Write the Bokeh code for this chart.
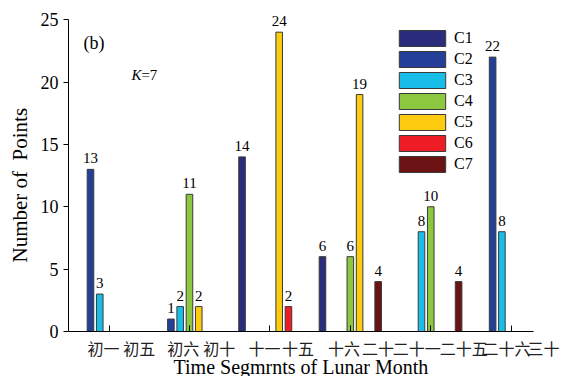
from bokeh.plotting import figure
from bokeh.models import (Range1d, LinearAxis, FixedTicker, ColumnDataSource,
                          LabelSet, Label, Legend, LegendItem, Title)
from bokeh.embed import file_html
from bokeh.resources import INLINE

# Point counts per cluster in each lunar-month time segment
segments = ["初一-初五", "初六-初十", "十一-十五", "十六-二十", "二十一-二十五", "二十六-三十"]
series = ["C1", "C2", "C3", "C4", "C5", "C6", "C7"]
c1 = [0, 0, 14, 6, 0, 0]
c2 = [13, 1, 0, 0, 0, 22]
c3 = [3, 2, 0, 0, 8, 8]
c4 = [0, 11, 0, 6, 10, 0]
c5 = [0, 2, 24, 19, 0, 0]
c6 = [0, 0, 2, 0, 0, 0]
c7 = [0, 0, 0, 4, 4, 0]
values = [c1, c2, c3, c4, c5, c6, c7]
colors = ["#2B2C7B", "#243F98", "#18BEE8", "#8DC63F", "#FDCB10", "#EE1D25", "#6A1214"]

# Day labels along the bottom and where they sit on the segment axis
tick_labels = ["初一", "初五", "初六", "初十", "十一", "十五",
               "十六", "二十", "二十一", "二十五", "二十六", "三十"]
tick_label_pos = [-0.07, 0.377, 0.923, 1.37, 1.933, 2.35,
                  2.921, 3.343, 3.826, 4.409, 4.942, 5.402]
y_ticks = [0, 5, 10, 15, 20, 25]

SERIF = "Liberation Serif"
CJK = "Noto Sans CJK SC"
slot = 0.1154
bar_w = 0.082

# the frame runs a little above 25 so the tallest value label has room
p = figure(width=571, height=376, output_backend="svg", toolbar_location=None,
           x_range=Range1d(-0.504, 5.464), y_range=Range1d(0, 26.54),
           x_axis_location=None,
           min_border_left=67, min_border_right=23, min_border_top=0, min_border_bottom=45)
p.grid.visible = False
p.outline_line_color = None

# y axis (line stops at 25)
ya = p.yaxis[0]
ya.ticker = FixedTicker(ticks=y_ticks)
ya.bounds = (0, 25)
ya.major_tick_out = 5
ya.major_tick_in = 0
ya.minor_tick_out = 0
ya.minor_tick_in = 0
ya.axis_line_color = "black"
ya.major_tick_line_color = "black"
ya.major_label_text_font = SERIF
ya.major_label_text_font_size = "18px"
ya.major_label_text_color = "black"
ya.major_label_standoff = 5

p.add_layout(Title(text="Number of\u00a0 Points", align="left", offset=69, standoff=11,
                   text_font=SERIF, text_font_size="21px", text_font_style="normal",
                   text_color="black"), "left")

# x axis line with an inner tick at the centre of every segment
group_centers = list(range(len(segments)))
ax_ticks = LinearAxis(ticker=FixedTicker(ticks=[], minor_ticks=group_centers),
                      bounds=(-0.504, 5.28),
                      major_tick_in=0, major_tick_out=0, minor_tick_in=6, minor_tick_out=0,
                      major_label_standoff=0, axis_line_color="black",
                      minor_tick_line_color="black")
p.add_layout(ax_ticks, "below")

# day labels
ax_labels = LinearAxis(ticker=FixedTicker(ticks=tick_label_pos),
                       major_label_overrides={pos: lab for pos, lab in zip(tick_label_pos, tick_labels)},
                       axis_line_color=None, major_tick_line_color=None, minor_tick_line_color=None,
                       major_tick_in=0, major_tick_out=0, minor_tick_in=0, minor_tick_out=0,
                       major_label_standoff=4, major_label_text_font=CJK,
                       major_label_text_font_size="16px", major_label_text_color="#222222")
p.add_layout(ax_labels, "below")

p.add_layout(Title(text="Time Segmrnts of Lunar Month", align="left", offset=105, standoff=-18,
                   text_font=SERIF, text_font_size="20px", text_font_style="normal",
                   text_color="black"), "below")

# grouped bars (zero counts are not drawn)
items = []
lab_x, lab_y, lab_t = [], [], []
for j, (name, vals, col) in enumerate(zip(series, values, colors)):
    xs = [g + (j - 3) * slot for g, v in zip(group_centers, vals) if v > 0]
    tops = [v for v in vals if v > 0]
    r = p.vbar(x=xs, top=tops, bottom=0, width=bar_w, fill_color=col,
               line_color="#3a3a3a", line_width=1)
    items.append(LegendItem(label=name, renderers=[r]))
    lab_x += xs
    lab_y += tops
    lab_t += [str(v) for v in tops]

src = ColumnDataSource(dict(x=lab_x, y=lab_y, t=lab_t))
p.add_layout(LabelSet(x="x", y="y", text="t", source=src, y_offset=6,
                      text_align="center", text_baseline="alphabetic",
                      text_font=SERIF, text_font_size="15px", text_color="black"))

legend = Legend(items=items, location=(325, 157), glyph_width=58, glyph_height=20,
                label_height=20, spacing=1, padding=0, margin=0, label_standoff=3,
                label_text_font=SERIF, label_text_font_size="16px", label_text_color="black",
                border_line_color=None, background_fill_alpha=0)
p.add_layout(legend)

p.add_layout(Label(x=-0.318, y=23.1, text="(b)", text_font=SERIF, text_font_size="18px",
                   text_baseline="alphabetic", text_color="black"))
p.add_layout(Label(x=0.278, y=20.53, text="K", text_font=SERIF, text_font_size="15px",
                   text_font_style="italic", text_baseline="alphabetic", text_color="black"))
p.add_layout(Label(x=0.278, y=20.53, x_offset=10, text="=7", text_font=SERIF,
                   text_font_size="15px", text_baseline="alphabetic", text_color="black"))

open("out.html", "w").write(file_html(p, INLINE))
